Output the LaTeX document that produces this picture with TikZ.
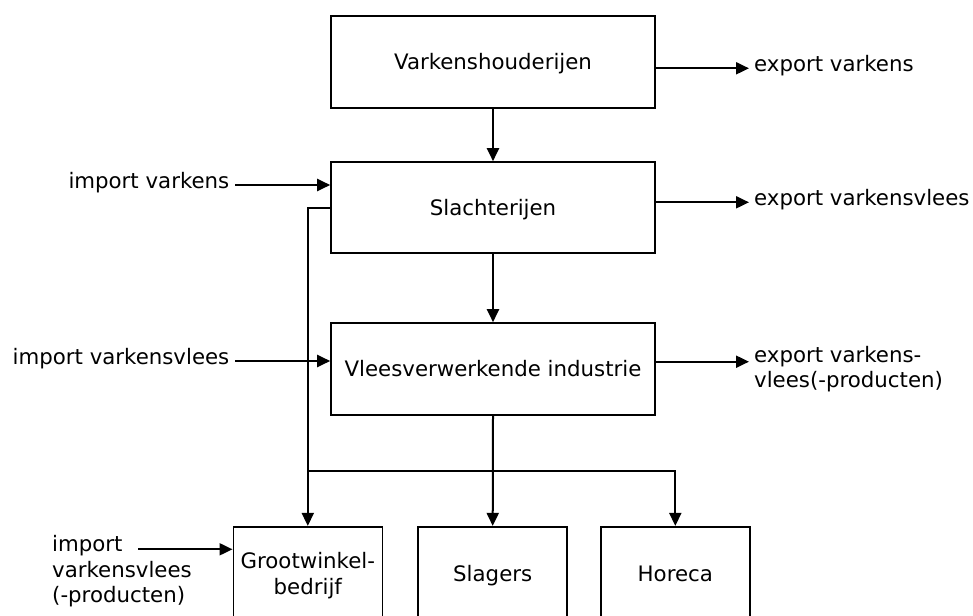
\documentclass[tikz,border=0pt]{standalone}
\usepackage{fontspec}
\setmainfont{DejaVu Sans}
\usetikzlibrary{arrows.meta,calc}
\begin{document}
\begin{tikzpicture}[x=1pt,y=-1pt,
  every node/.append style={font=\fontsize{21.3}{25.6}\selectfont},
  box/.style={draw,line width=1.6pt,minimum width=324pt,minimum height=92pt,inner sep=0pt,align=center,text height=15.5pt,text depth=0pt},
  sbox/.style={draw,line width=1.6pt,minimum width=149pt,minimum height=94pt,inner sep=0pt,align=center,text height=15.5pt,text depth=0pt},
  lbl/.style={inner sep=0pt,align=left},
  flow/.style={line width=2pt,-{Triangle[length=13pt,width=12pt]}}]
\useasboundingbox (0,0) rectangle (973,615);
\clip (0,0) rectangle (973,615);
% main boxes
\node[box] (v) at (493,62) {Varkenshouderijen};
\node[box,minimum height=91pt] (s) at (493,207.5) {Slachterijen};
\node[box] (i) at (493,369) {Vleesverwerkende industrie};
\node[sbox,text height=41.1pt] (g) at (307.8,573.7) {Grootwinkel-\\bedrijf};
\node[sbox] (sl) at (492.7,573.7) {Slagers};
\node[sbox] (h) at (675.3,573.7) {Horeca};
% vertical flows
\draw[flow] (v.south) -- (s.north);
\draw[flow] (s.south) -- (i.north);
\draw[flow] (s.west) -| (g.north);
\draw[flow] (i.south) -- (sl.north);
\coordinate (hy) at (0,470.7);
\coordinate (j1) at (g.north |- hy);
\draw[flow] (j1) -| (h.north);
% imports
\coordinate (a1) at (235,185);
\node[lbl,anchor=east] (t1) at (229.5,183) {import varkens};
\draw[flow] (a1) -- (a1 -| s.west);
\coordinate (a2) at (235,361);
\node[lbl,anchor=east] (t2) at (229.5,359) {import varkensvlees};
\draw[flow] (a2) -- (a2 -| i.west);
\coordinate (a3) at (138,549.3);
\node[lbl,anchor=west] (t3) at (52,571.5) {import\\varkensvlees\\(-producten)};
\draw[flow] (a3) -- (a3 -| g.west);
% exports
\coordinate (e1) at (749,68.3);
\draw[flow] (v.east |- e1) -- (e1);
\node[lbl,anchor=west] (x1) at (754,66) {export varkens};
\coordinate (e2) at (749,202.3);
\draw[flow] (s.east |- e2) -- (e2);
\node[lbl,anchor=west] (x2) at (754,200) {export varkensvlees};
\coordinate (e3) at (749,361.7);
\draw[flow] (i.east |- e3) -- (e3);
\node[lbl,anchor=west] (x3) at (754,369) {export varkens-\\vlees(-producten)};
\end{tikzpicture}
\end{document}
